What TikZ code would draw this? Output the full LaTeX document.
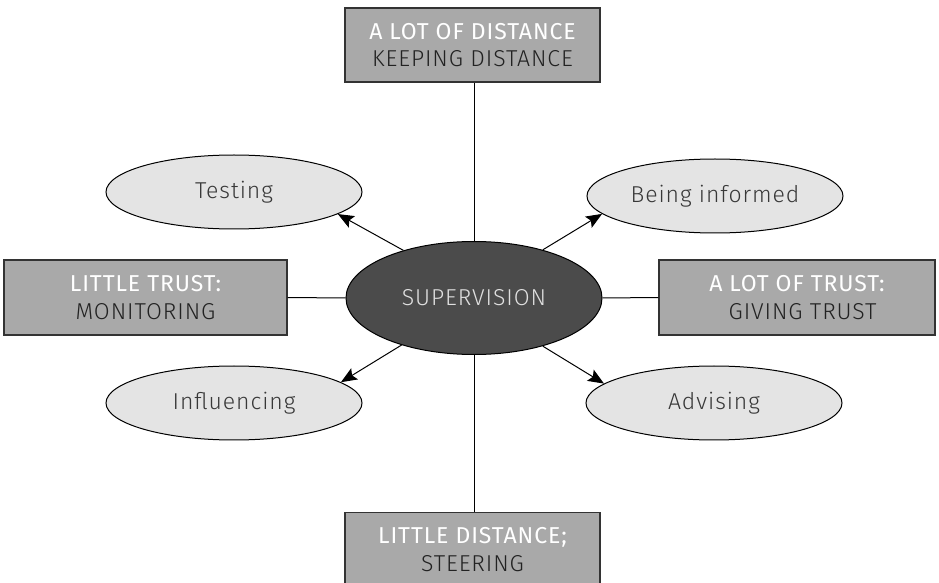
\documentclass[tikz,border=0pt]{standalone}
\usepackage{fontspec}
\setmainfont{Fira Sans Light}[LetterSpace=4]
\newfontfamily\regfont{Fira Sans}[LetterSpace=4]
\usetikzlibrary{shapes.geometric,arrows.meta}
\definecolor{boxgray}{HTML}{A9A9A9}
\definecolor{centergray}{HTML}{4B4B4B}
\definecolor{ovalgray}{HTML}{E4E4E4}
\definecolor{txtdark}{HTML}{222222}
\newcommand{\wl}[1]{{\regfont\color{white}#1}}
\begin{document}
\begin{tikzpicture}[x=0.5pt,y=-0.5pt,
  box/.style={draw=black!80,line width=0.6pt,fill=boxgray,minimum width=#1,minimum height=37pt,inner sep=0pt,align=center,font=\fontsize{11.5}{13.7}\selectfont,text=txtdark},
  oval/.style={ellipse,draw=black,line width=0.5pt,fill=ovalgray,minimum width=128pt,minimum height=37pt,inner sep=0pt,font=\fontsize{11.5}{13}\selectfont,text=txtdark!90},
  conn/.style={line width=0.5pt,draw=black},
  arr/.style={line width=0.5pt,draw=black,-{Stealth[length=8pt,width=6.5pt,inset=1.5pt]}}]
\useasboundingbox (0,0) rectangle (939,583);
\node[ellipse,draw=black,line width=0.5pt,fill=centergray,minimum width=128pt,minimum height=56.5pt,inner sep=0pt,text=black!12,font=\fontsize{11.5}{13}\selectfont] (c) at (474,298) {SUPERVISION};
\node[box=127.5pt] (top) at (472.5,45) {\wl{A LOT OF DISTANCE}\\KEEPING DISTANCE};
\node[box=141.5pt,minimum height=37.5pt] (left) at (145.5,297.5) {\wl{LITTLE TRUST:}\\MONITORING};
\node[box=138pt,minimum height=37.5pt] (right) at (797,297.5) {\wl{A LOT OF TRUST:}\\\ \,GIVING TRUST};
\node[box=127.5pt,anchor=north] (bot) at (472.5,512) {\wl{LITTLE DISTANCE;}\\STEERING};
\node[oval] (test) at (234,192) {Testing};
\node[oval] (info) at (715,196) {Being informed};
\node[oval] (infl) at (234,403) {Influencing};
\node[oval] (adv) at (714,403) {Advising};
\draw[conn] (top.south -| c.north) -- (c.north);
\draw[conn] (c.south) -- (bot.north -| c.south);
\draw[conn] (left.east) -- (c.west);
\draw[conn] (c.east) -- (right.west);
\draw[arr] (c.146) -- (test.-12);
\draw[arr] (c.35) -- (info.189);
\draw[arr] (c.213) -- (infl.11);
\draw[arr] (c.-35) -- (adv.170);
\end{tikzpicture}
\end{document}
